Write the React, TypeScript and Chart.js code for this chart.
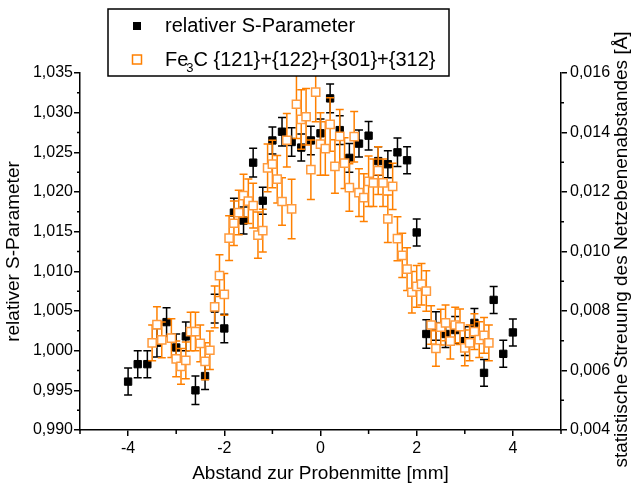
import React, { useEffect, useRef } from 'react';
import { Chart, registerables } from 'chart.js';

Chart.register(...registerables);

// ---- data ----
const sX = [-4.0, -3.8, -3.6, -3.4, -3.2, -3.0, -2.8, -2.6, -2.4, -2.2, -2.0, -1.8, -1.6, -1.4, -1.2, -1.0, -0.8, -0.6, -0.4, -0.2, 0.0,
  0.2, 0.4, 0.6, 0.8, 1.0, 1.2, 1.4, 1.6, 1.8, 2.0, 2.2, 2.4, 2.6, 2.8, 3.0, 3.2, 3.4, 3.6, 3.8, 4.0];
const sY = [0.9961, 0.9983, 0.9983, 1.0010, 1.0036, 1.0004, 1.0018, 0.9950, 0.9968, 1.0053, 1.0028, 1.0174, 1.0164, 1.0237, 1.0189,
  1.0265, 1.0276, 1.0263, 1.0256, 1.0265, 1.0274, 1.0318, 1.0278, 1.0243, 1.0261, 1.0271, 1.0239, 1.0235, 1.0250, 1.0240,
  1.0149, 1.0021, 1.0031, 1.0021, 1.0026, 1.0012, 1.0035, 0.9972, 1.0064, 0.9996, 1.0023];
const sErr = [0.0017, 0.0017, 0.0017, 0.0018, 0.0018, 0.0017, 0.0018, 0.0018, 0.0017, 0.0018, 0.0018, 0.0018, 0.0017, 0.0018,
  0.0017, 0.0017, 0.0018, 0.0018, 0.0017, 0.0018, 0.0018, 0.0018, 0.0018, 0.0018, 0.0017, 0.0018, 0.0018, 0.0017, 0.0018,
  0.0017, 0.0017, 0.0018, 0.0018, 0.0017, 0.0017, 0.0018, 0.0018, 0.0017, 0.0017, 0.0017, 0.0017];

const fX = [-3.5, -3.4, -3.3, -3.1, -3.0, -2.9, -2.8, -2.7, -2.6, -2.5, -2.4, -2.3, -2.2, -2.1, -2.0, -1.9, -1.8, -1.7, -1.6, -1.5,
  -1.4, -1.3, -1.2, -1.1, -1.0, -0.9, -0.8, -0.7, -0.6, -0.5, -0.4, -0.3, -0.2, -0.1, 0.0, 0.1, 0.2, 0.3, 0.4, 0.5,
  0.6, 0.7, 0.8, 0.9, 1.0, 1.1, 1.2, 1.3, 1.4, 1.5, 1.6, 1.7, 1.8, 1.9, 2.0, 2.1, 2.2, 2.3, 2.4, 2.5,
  2.6, 2.7, 2.8, 2.9, 3.0, 3.1, 3.2, 3.3, 3.4, 3.5];
const fY = [0.00693, 0.00754, 0.00703, 0.00709, 0.00639, 0.00614, 0.00634, 0.00731, 0.00731, 0.00691,
  0.00631, 0.00668, 0.00814, 0.00919, 0.00856, 0.01045, 0.01095, 0.01131, 0.01188, 0.01169,
  0.01154, 0.01055, 0.01070, 0.01281, 0.01294, 0.01243, 0.01168, 0.01374, 0.01143, 0.01495,
  0.01444, 0.01453, 0.01275, 0.01536, 0.01361, 0.01346, 0.01427, 0.01286, 0.01387, 0.01297,
  0.01215, 0.01386, 0.01198, 0.01181, 0.01236, 0.01231, 0.01272, 0.01231, 0.01110, 0.01219,
  0.01043, 0.00987, 0.00941, 0.00863, 0.00883, 0.00890, 0.00867, 0.00753, 0.00674, 0.00746,
  0.00760, 0.00699, 0.00753, 0.00747, 0.00676, 0.00693, 0.00731, 0.00704, 0.00718, 0.00693];
const fErr = [0.0006, 0.0006, 0.0006, 0.00065, 0.0006, 0.0006, 0.00062, 0.00065, 0.00065, 0.00062,
  0.00062, 0.00065, 0.0007, 0.0007, 0.0007, 0.00075, 0.00075, 0.00075, 0.00072, 0.00075,
  0.00075, 0.00078, 0.00072, 0.0008, 0.0008, 0.0008, 0.0008, 0.0009, 0.001, 0.00115,
  0.001, 0.00095, 0.001, 0.001, 0.00105, 0.0009, 0.0009, 0.0009, 0.0009, 0.00085,
  0.0008, 0.00085, 0.0008, 0.0008, 0.00085, 0.0008, 0.0008, 0.0008, 0.0008, 0.00078,
  0.00074, 0.00074, 0.00072, 0.0007, 0.0007, 0.0007, 0.00068, 0.00065, 0.0006, 0.0006,
  0.0006, 0.0006, 0.0006, 0.0006, 0.0006, 0.0006, 0.0006, 0.0006, 0.0006, 0.0006];

const xMajor = [-4, -2, 0, 2, 4];
const xMinor = [-5, -3, -1, 1, 3, 5];
const yLeftMajor = [0.990, 0.995, 1.000, 1.005, 1.010, 1.015, 1.020, 1.025, 1.030, 1.035];
const yLeftMinor = [0.9925, 0.9975, 1.0025, 1.0075, 1.0125, 1.0175, 1.0225, 1.0275, 1.0325];
const yRightMajor = [0.004, 0.006, 0.008, 0.010, 0.012, 0.014, 0.016];
const yRightMinor = [0.005, 0.007, 0.009, 0.011, 0.013, 0.015];

const seriesLabels = ['relativer S-Parameter', 'Fe3C {121}+{122}+{301}+{312}'];
const xTitle = 'Abstand zur Probenmitte [mm]';
const yTitle = 'relativer S-Parameter';
const y2Title = 'statistische Streuung des Netzebenenabstandes [Å]';

const FONT = '"Liberation Sans", Arial, Helvetica, sans-serif';
const ORANGE = '#ff8000';
const ORANGE_BOX = '#ff9a3c';

const errorBarsPlugin = {
  id: 'errorBars',
  beforeDatasetDraw(chart: any, args: any) {
    const ds = chart.data.datasets[args.index];
    if (!ds.errors) return;
    const xs = chart.scales.x;
    const ys = chart.scales[ds.yAxisID];
    const ctx = chart.ctx;
    ctx.save();
    ctx.strokeStyle = ds.errorColor;
    ctx.lineWidth = 1.5;
    const cap = 4;
    ds.data.forEach((p: any, i: number) => {
      const x = xs.getPixelForValue(p.x);
      const yT = ys.getPixelForValue(p.y + ds.errors[i]);
      const yB = ys.getPixelForValue(p.y - ds.errors[i]);
      ctx.beginPath();
      ctx.moveTo(x, yT); ctx.lineTo(x, yB);
      ctx.moveTo(x - cap, yT); ctx.lineTo(x + cap, yT);
      ctx.moveTo(x - cap, yB); ctx.lineTo(x + cap, yB);
      ctx.stroke();
    });
    ctx.restore();
  },
};

const axisExtrasPlugin = {
  id: 'axisExtras',
  afterDraw(chart: any) {
    const ctx = chart.ctx;
    const { left, right, top, bottom } = chart.chartArea;
    ctx.save();
    ctx.strokeStyle = '#000';
    ctx.lineWidth = 1.5;
    ctx.beginPath();
    xMinor.forEach(v => { const x = chart.scales.x.getPixelForValue(v); ctx.moveTo(x, bottom); ctx.lineTo(x, bottom + 4); });
    yLeftMinor.forEach(v => { const y = chart.scales.y.getPixelForValue(v); ctx.moveTo(left - 3, y); ctx.lineTo(left, y); });
    yRightMinor.forEach(v => { const y = chart.scales.y2.getPixelForValue(v); ctx.moveTo(right, y); ctx.lineTo(right + 3, y); });
    ctx.stroke();
    // right axis title, reading bottom-to-top like the left one
    ctx.translate(622, (top + bottom) / 2 - 2);
    ctx.rotate(-Math.PI / 2);
    ctx.fillStyle = '#000';
    ctx.font = `19px ${FONT}`;
    ctx.textAlign = 'center';
    ctx.textBaseline = 'middle';
    ctx.fillText(y2Title, 0, 0);
    ctx.restore();
  },
};

const legendPlugin = {
  id: 'boxLegend',
  afterDraw(chart: any) {
    const ctx = chart.ctx;
    const bx = 108, by = 9, bw = 341, bh = 67;
    ctx.save();
    ctx.fillStyle = '#fff';
    ctx.fillRect(bx, by, bw, bh);
    ctx.strokeStyle = '#000';
    ctx.lineWidth = 1.5;
    ctx.strokeRect(bx, by, bw, bh);
    const r1 = 26, r2 = 60, mx = 137, tx = 165;
    ctx.fillStyle = '#000';
    ctx.fillRect(mx - 4, r1 - 4, 8, 8);
    ctx.font = `20px ${FONT}`;
    ctx.textBaseline = 'middle';
    ctx.textAlign = 'left';
    ctx.fillText(seriesLabels[0], tx, r1);
    ctx.fillStyle = '#fff';
    ctx.fillRect(mx - 4.5, r2 - 5, 9, 9);
    ctx.strokeStyle = ORANGE;
    ctx.lineWidth = 1.5;
    ctx.strokeRect(mx - 4.5, r2 - 5, 9, 9);
    ctx.fillStyle = '#000';
    const label = seriesLabels[1];
    const p1 = label.slice(0, 2);
    const sub = label.slice(2, 3);
    const p2 = label.slice(3);
    ctx.font = `20px ${FONT}`;
    ctx.fillText(p1, tx, r2);
    const w = ctx.measureText(p1).width;
    ctx.font = `13px ${FONT}`;
    ctx.fillText(sub, tx + w - 2, r2 + 8);
    const ws = ctx.measureText(sub).width;
    ctx.font = `20px ${FONT}`;
    ctx.fillText(p2, tx + w - 2 + ws, r2);
    ctx.restore();
  },
};

const fmt3 = (v: any) => Number(v).toFixed(3).replace('.', ',');

export default function App() {
  const ref = useRef<HTMLCanvasElement | null>(null);
  useEffect(() => {
    document.body.style.margin = '0';
    const canvas = ref.current;
    if (!canvas) return;
    const tickFont = { family: FONT, size: 16 };
    const titleFont = { family: FONT, size: 19 };
    const grid = { display: true, drawOnChartArea: false, drawTicks: true, tickLength: 6, color: '#000', lineWidth: 1.5 };
    const border = { display: true, color: '#000', width: 1.5 };
    const chart = new Chart(canvas, {
      type: 'scatter',
      data: {
        datasets: [
          {
            label: seriesLabels[0],
            data: sX.map((x, i) => ({ x, y: sY[i] })),
            yAxisID: 'y',
            order: 2,
            pointStyle: 'rect',
            pointRadius: 5.2,
            backgroundColor: '#000',
            borderColor: '#000',
            borderWidth: 1,
            errors: sErr,
            errorColor: '#000',
          } as any,
          {
            label: seriesLabels[1],
            data: fX.map((x, i) => ({ x, y: fY[i] })),
            yAxisID: 'y2',
            order: 1,
            pointStyle: 'rect',
            pointRadius: 5.8,
            backgroundColor: '#fff',
            borderColor: ORANGE_BOX,
            borderWidth: 1.5,
            errors: fErr,
            errorColor: ORANGE,
          } as any,
        ],
      },
      options: {
        responsive: false,
        devicePixelRatio: 1,
        animation: false,
        layout: { padding: { top: 73, left: 0, right: 0, bottom: 0 } },
        plugins: { legend: { display: false }, tooltip: { enabled: false } },
        scales: {
          x: {
            type: 'linear',
            position: 'bottom',
            min: -5,
            max: 5,
            afterBuildTicks: (s: any) => { s.ticks = xMajor.map(v => ({ value: v })); },
            afterFit: (s: any) => { s.height = 55; },
            ticks: { font: tickFont, color: '#000', padding: 3, autoSkip: false, maxRotation: 0, callback: (v: any) => String(v) },
            grid,
            border,
            title: { display: true, text: xTitle, font: titleFont, color: '#000', padding: { top: 0, bottom: 0 } },
          },
          y: {
            type: 'linear',
            position: 'left',
            min: 0.99,
            max: 1.035,
            afterBuildTicks: (s: any) => { s.ticks = yLeftMajor.map(v => ({ value: v })); },
            afterFit: (s: any) => { s.width = 80; },
            ticks: { font: tickFont, color: '#000', padding: 1, autoSkip: false, callback: fmt3 },
            grid,
            border,
            title: { display: true, text: yTitle, font: titleFont, color: '#000', padding: { top: 2, bottom: 0 } },
          },
          y2: {
            type: 'linear',
            position: 'right',
            min: 0.004,
            max: 0.016,
            afterBuildTicks: (s: any) => { s.ticks = yRightMajor.map(v => ({ value: v })); },
            afterFit: (s: any) => { s.width = 72; },
            ticks: { font: tickFont, color: '#000', padding: 3, autoSkip: false, callback: fmt3 },
            grid,
            border,
            title: { display: false, text: y2Title },
          },
        },
      } as any,
      plugins: [errorBarsPlugin, axisExtrasPlugin, legendPlugin],
    });
    return () => chart.destroy();
  }, []);
  return (
    <div style={{ width: 633, height: 485, background: '#fff' }}>
      <canvas ref={ref} width={633} height={485} style={{ display: 'block' }} />
    </div>
  );
}
